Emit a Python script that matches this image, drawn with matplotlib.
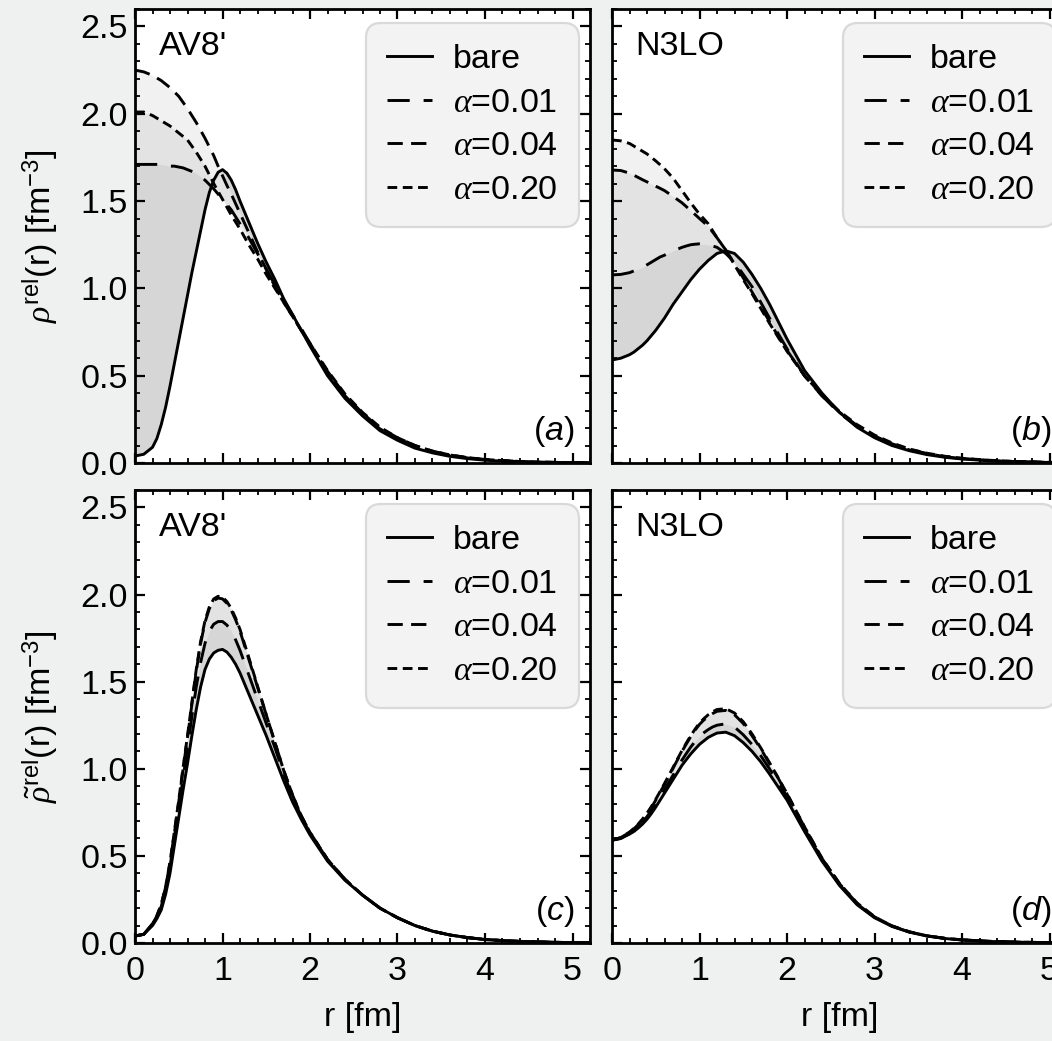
import matplotlib
matplotlib.use("Agg")
import matplotlib.pyplot as plt
from matplotlib.ticker import MultipleLocator, FormatStrFormatter

plt.rcParams['font.family'] = ['Liberation Sans', 'DejaVu Sans']
plt.rcParams['mathtext.fontset'] = 'custom'
plt.rcParams['mathtext.rm'] = 'Liberation Sans'
plt.rcParams['mathtext.it'] = 'Liberation Serif:italic'
plt.rcParams['mathtext.cal'] = 'Liberation Sans:italic'
plt.rcParams['lines.scale_dashes'] = False

# radial grid [fm], shared by all curves
r = [0.0, 0.1, 0.2, 0.25, 0.3, 0.35, 0.4, 0.45, 0.5, 0.55, 0.6, 0.65, 0.7, 0.75, 0.8, 0.85,
     0.9, 0.95, 1.0, 1.05, 1.1, 1.15, 1.2, 1.3, 1.4, 1.5, 1.6, 1.7, 1.8, 1.9, 2.0,
     2.2, 2.4, 2.6, 2.8, 3.0, 3.2, 3.4, 3.6, 3.8, 4.0, 4.3, 4.6, 5.0, 5.2]

# (a) AV8', rho_rel
av8_bare = [0.04, 0.05, 0.09, 0.14, 0.22, 0.32, 0.44, 0.57, 0.70, 0.83, 0.96, 1.09, 1.21, 1.33, 1.45, 1.55,
            1.62, 1.665, 1.68, 1.66, 1.62, 1.565, 1.50, 1.38, 1.26, 1.15, 1.05, 0.94, 0.85, 0.76, 0.67,
            0.50, 0.37, 0.27, 0.185, 0.13, 0.085, 0.058, 0.038, 0.025, 0.016, 0.008, 0.004, 0.002, 0.001]
av8_a001 = [1.71, 1.71, 1.71, 1.71, 1.71, 1.705, 1.70, 1.70, 1.695, 1.69, 1.68, 1.67, 1.66, 1.64, 1.62, 1.595,
            1.57, 1.54, 1.51, 1.48, 1.45, 1.41, 1.37, 1.29, 1.20, 1.11, 1.02, 0.93, 0.85, 0.77, 0.685,
            0.52, 0.385, 0.28, 0.195, 0.14, 0.095, 0.065, 0.043, 0.029, 0.019, 0.010, 0.005, 0.002, 0.001]
av8_a004 = [2.25, 2.24, 2.22, 2.205, 2.19, 2.17, 2.15, 2.125, 2.10, 2.065, 2.03, 1.99, 1.95, 1.905, 1.86, 1.81,
            1.76, 1.70, 1.645, 1.59, 1.54, 1.485, 1.43, 1.32, 1.21, 1.11, 1.01, 0.92, 0.84, 0.76, 0.68,
            0.525, 0.39, 0.285, 0.20, 0.145, 0.10, 0.068, 0.046, 0.031, 0.020, 0.011, 0.005, 0.002, 0.001]
av8_a020 = [2.01, 2.01, 1.99, 1.975, 1.96, 1.945, 1.93, 1.91, 1.89, 1.87, 1.85, 1.815, 1.78, 1.74, 1.70, 1.65,
            1.60, 1.555, 1.51, 1.465, 1.42, 1.38, 1.34, 1.25, 1.17, 1.08, 1.00, 0.92, 0.84, 0.76, 0.685,
            0.53, 0.395, 0.29, 0.205, 0.145, 0.10, 0.068, 0.046, 0.031, 0.020, 0.011, 0.005, 0.002, 0.001]

# (b) N3LO, rho_rel
n3lo_bare = [0.59, 0.60, 0.62, 0.635, 0.655, 0.675, 0.70, 0.73, 0.76, 0.795, 0.83, 0.87, 0.91, 0.945, 0.98, 1.015,
             1.05, 1.08, 1.11, 1.135, 1.16, 1.18, 1.20, 1.215, 1.20, 1.15, 1.08, 1.00, 0.91, 0.81, 0.71,
             0.53, 0.40, 0.29, 0.205, 0.145, 0.10, 0.07, 0.048, 0.033, 0.023, 0.013, 0.007, 0.003, 0.002]
n3lo_a001 = [1.077, 1.08, 1.09, 1.10, 1.11, 1.12, 1.135, 1.15, 1.165, 1.18, 1.19, 1.203, 1.215, 1.225, 1.235, 1.243,
             1.25, 1.253, 1.255, 1.253, 1.25, 1.243, 1.235, 1.20, 1.15, 1.08, 1.01, 0.92, 0.83, 0.74, 0.655,
             0.50, 0.385, 0.285, 0.21, 0.15, 0.105, 0.075, 0.052, 0.036, 0.025, 0.014, 0.008, 0.003, 0.002]
n3lo_a004 = [1.678, 1.675, 1.66, 1.648, 1.635, 1.622, 1.61, 1.598, 1.585, 1.573, 1.56, 1.543, 1.525, 1.508, 1.49, 1.468,
             1.445, 1.423, 1.40, 1.378, 1.355, 1.323, 1.29, 1.22, 1.14, 1.06, 0.98, 0.895, 0.81, 0.725, 0.645,
             0.50, 0.385, 0.29, 0.215, 0.155, 0.11, 0.078, 0.054, 0.037, 0.026, 0.015, 0.008, 0.003, 0.002]
n3lo_a020 = [1.85, 1.845, 1.83, 1.815, 1.80, 1.785, 1.77, 1.75, 1.73, 1.708, 1.685, 1.658, 1.63, 1.595, 1.56, 1.525,
             1.49, 1.457, 1.425, 1.398, 1.37, 1.33, 1.29, 1.22, 1.135, 1.05, 0.97, 0.885, 0.80, 0.72, 0.64,
             0.50, 0.39, 0.295, 0.22, 0.16, 0.115, 0.08, 0.056, 0.039, 0.027, 0.016, 0.009, 0.004, 0.002]

# (c) AV8', rho_rel tilde
av8t_bare = [0.04, 0.05, 0.10, 0.14, 0.19, 0.28, 0.40, 0.56, 0.72, 0.88, 1.03, 1.19, 1.34, 1.47, 1.57, 1.63,
             1.665, 1.68, 1.685, 1.67, 1.64, 1.60, 1.55, 1.43, 1.31, 1.19, 1.06, 0.93, 0.81, 0.71, 0.62,
             0.47, 0.36, 0.275, 0.20, 0.145, 0.10, 0.068, 0.046, 0.031, 0.020, 0.011, 0.006, 0.002, 0.001]
av8t_a001 = [0.04, 0.05, 0.11, 0.15, 0.21, 0.31, 0.44, 0.60, 0.77, 0.95, 1.12, 1.30, 1.47, 1.61, 1.72, 1.79,
             1.83, 1.845, 1.845, 1.825, 1.79, 1.74, 1.68, 1.54, 1.40, 1.26, 1.12, 0.97, 0.84, 0.725, 0.63,
             0.48, 0.365, 0.275, 0.20, 0.145, 0.10, 0.068, 0.046, 0.031, 0.020, 0.011, 0.006, 0.002, 0.001]
av8t_a004 = [0.04, 0.05, 0.11, 0.155, 0.22, 0.32, 0.46, 0.63, 0.81, 1.00, 1.18, 1.37, 1.56, 1.72, 1.84, 1.92,
             1.965, 1.98, 1.975, 1.95, 1.91, 1.855, 1.79, 1.63, 1.47, 1.31, 1.15, 0.99, 0.85, 0.73, 0.635,
             0.48, 0.365, 0.275, 0.20, 0.145, 0.10, 0.068, 0.046, 0.031, 0.020, 0.011, 0.006, 0.002, 0.001]
av8t_a020 = [0.04, 0.05, 0.11, 0.157, 0.222, 0.325, 0.465, 0.64, 0.82, 1.01, 1.19, 1.38, 1.57, 1.73, 1.85, 1.93,
             1.975, 1.99, 1.985, 1.96, 1.92, 1.865, 1.80, 1.64, 1.475, 1.31, 1.15, 0.99, 0.85, 0.73, 0.635,
             0.48, 0.365, 0.275, 0.20, 0.145, 0.10, 0.068, 0.046, 0.031, 0.020, 0.011, 0.006, 0.002, 0.001]

# (d) N3LO, rho_rel tilde
n3lot_bare = [0.59, 0.60, 0.625, 0.64, 0.66, 0.683, 0.71, 0.743, 0.78, 0.82, 0.86, 0.90, 0.94, 0.98, 1.02, 1.053,
              1.085, 1.113, 1.14, 1.16, 1.18, 1.193, 1.205, 1.21, 1.19, 1.15, 1.10, 1.04, 0.97, 0.895, 0.82,
              0.64, 0.47, 0.33, 0.22, 0.145, 0.095, 0.062, 0.040, 0.026, 0.017, 0.009, 0.005, 0.002, 0.001]
n3lot_a001 = [0.59, 0.60, 0.63, 0.648, 0.67, 0.696, 0.725, 0.76, 0.80, 0.84, 0.88, 0.922, 0.965, 1.008, 1.05, 1.088,
              1.125, 1.157, 1.185, 1.207, 1.225, 1.24, 1.25, 1.258, 1.24, 1.195, 1.14, 1.075, 1.00, 0.92, 0.84,
              0.655, 0.48, 0.335, 0.225, 0.148, 0.097, 0.063, 0.041, 0.027, 0.018, 0.010, 0.005, 0.002, 0.001]
n3lot_a004 = [0.59, 0.605, 0.635, 0.655, 0.68, 0.708, 0.74, 0.778, 0.82, 0.865, 0.91, 0.957, 1.005, 1.053, 1.10, 1.143,
              1.185, 1.222, 1.255, 1.28, 1.30, 1.317, 1.33, 1.335, 1.31, 1.26, 1.19, 1.115, 1.03, 0.945, 0.855,
              0.665, 0.485, 0.34, 0.228, 0.15, 0.098, 0.064, 0.041, 0.027, 0.018, 0.010, 0.005, 0.002, 0.001]
n3lot_a020 = [0.59, 0.605, 0.637, 0.658, 0.683, 0.712, 0.745, 0.783, 0.825, 0.87, 0.915, 0.962, 1.01, 1.058, 1.105, 1.148,
              1.19, 1.228, 1.262, 1.288, 1.31, 1.327, 1.34, 1.345, 1.32, 1.27, 1.20, 1.12, 1.035, 0.948, 0.858,
              0.667, 0.487, 0.342, 0.23, 0.151, 0.098, 0.064, 0.041, 0.027, 0.018, 0.010, 0.005, 0.002, 0.001]

labels = ['bare', r'$\alpha$=0.01', r'$\alpha$=0.04', r'$\alpha$=0.20']
dashes = ['-', (0, (16, 10)), (0, (11, 6)), (0, (7, 4))]

panels = [
    ("AV8'", 'a', [av8_bare, av8_a001, av8_a004, av8_a020]),
    ("N3LO", 'b', [n3lo_bare, n3lo_a001, n3lo_a004, n3lo_a020]),
    ("AV8'", 'c', [av8t_bare, av8t_a001, av8t_a004, av8t_a020]),
    ("N3LO", 'd', [n3lot_bare, n3lot_a001, n3lot_a004, n3lot_a020]),
]

W, H = 1052.0, 1041.0
fig = plt.figure(figsize=(W / 100, H / 100), dpi=100, facecolor='#eff0f0')

# axes boxes in pixels: left, top, width, height
boxes = [(135, 9, 455, 454), (612, 9, 455, 454), (135, 490, 455, 453), (612, 490, 455, 453)]
FS = 24.5

for i, (name, tag, curves) in enumerate(panels):
    x0, y0, w, h = boxes[i]
    ax = fig.add_axes([x0 / W, 1 - (y0 + h) / H, w / W, h / H])
    ax.set_facecolor('white')

    bare = curves[0]
    for c in curves[1:]:
        ax.fill_between(r, bare, c, color='k', alpha=0.055, lw=0)
    for c, ls, lab in zip(curves, dashes, labels):
        ax.plot(r, c, color='k', lw=2.1, linestyle=ls, label=lab)

    ax.set_xlim(0, 5.2)
    ax.set_ylim(0, 2.6)
    ax.xaxis.set_major_locator(MultipleLocator(1))
    ax.xaxis.set_minor_locator(MultipleLocator(0.2))
    ax.yaxis.set_major_locator(MultipleLocator(0.5))
    ax.yaxis.set_minor_locator(MultipleLocator(0.1))
    ax.yaxis.set_major_formatter(FormatStrFormatter('%.1f'))
    ax.tick_params(which='both', direction='in', top=True, right=True, labelsize=FS, colors='k')
    ax.tick_params(which='major', length=7, width=1.6)
    ax.tick_params(which='minor', length=3.5, width=1.3)
    ax.tick_params(axis='x', pad=9)
    ax.tick_params(axis='y', pad=5)
    for s in ax.spines.values():
        s.set_linewidth(2.0)

    if i % 2 == 1:
        ax.tick_params(labelleft=False)
    else:
        if i == 0:
            ax.set_ylabel(r'$\rho^{\mathrm{rel}}$(r) [fm$^{-3}$]', fontsize=FS)
        else:
            ax.set_ylabel(r'$\tilde{\rho}^{\mathrm{rel}}$(r) [fm$^{-3}$]', fontsize=FS)
        ax.yaxis.set_label_coords(-0.165, 0.5)
    if i < 2:
        ax.tick_params(labelbottom=False)
    else:
        ax.set_xlabel('r [fm]', fontsize=FS)
        ax.xaxis.set_label_coords(0.5, -0.13)

    ax.text(0.052, 0.917, name, transform=ax.transAxes, fontsize=FS, va='center', ha='left')
    ax.text(0.965, 0.07, '($\\mathcal{%s}$)' % tag, transform=ax.transAxes, fontsize=FS,
            va='center', ha='right')

    leg = ax.legend(loc='upper right', bbox_to_anchor=(0.976, 0.969), borderaxespad=0,
                    fontsize=FS, handlelength=1.32, handletextpad=0.62, labelspacing=0.37,
                    borderpad=0.62, frameon=True, fancybox=True, framealpha=1)
    frame = leg.get_frame()
    frame.set_facecolor('#f3f3f3')
    frame.set_edgecolor('#d9d9d9')
    frame.set_linewidth(1.6)
    frame.set_boxstyle('round', pad=0, rounding_size=0.45)

fig.savefig('out.png', dpi=100, facecolor=fig.get_facecolor())
